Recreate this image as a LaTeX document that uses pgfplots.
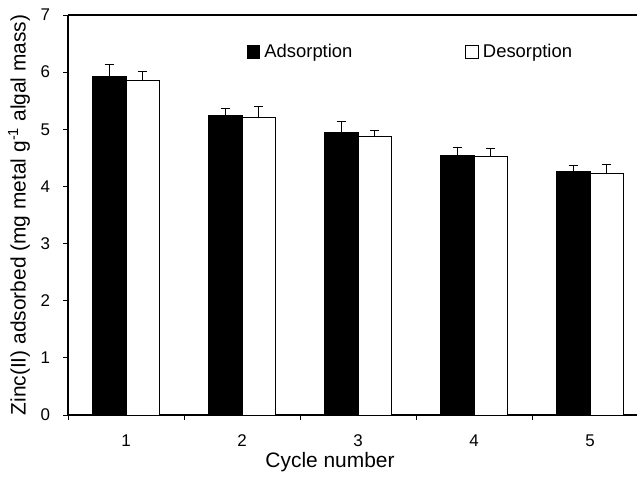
\documentclass[border=0pt]{standalone}
\usepackage{pgfplots}
\pgfplotsset{compat=1.18}
\usepackage{fontspec}
\setmainfont{Liberation Sans}
\begin{document}
\begin{tikzpicture}
\path[use as bounding box] (0,0) rectangle (637bp,477bp);
\begin{axis}[
  at={(68bp,62bp)}, anchor=south west,
  scale only axis, width=569bp, height=400bp,
  xmin=0.5, xmax=5.405, ymin=0, ymax=7,
  clip=false,
  axis lines*=left,
  axis line style={-, line width=1.1bp, black},
  tick align=outside,
  major tick length=4.5bp,
  tick style={line width=1bp, black},
  xtick={0.5,1.5,2.5,3.5,4.5},
  xticklabel={\fontsize{17}{20}\selectfont\pgfmathparse{int(\tick+0.5)}\pgfmathresult},
  ytick={0,1,2,3,4,5,6,7},
  yticklabel={\fontsize{17}{20}\selectfont\pgfmathparse{int(\tick)}\pgfmathresult},
  xticklabel style={xshift=58bp, yshift=-11.5bp},
  yticklabel style={anchor=east, xshift=-10bp},
  xlabel={Cycle number},
  ylabel={Zinc(II) adsorbed (mg metal g\textsuperscript{-1} algal mass)},
  label style={font=\fontsize{21}{24}\selectfont},
  xlabel style={at={(axis description cs:0.4605,-0.13)}, anchor=base},
  ylabel style={at={(axis description cs:-0.0861,0.5)}, anchor=center},
  legend columns=2,
  legend style={at={(axis description cs:0.314,0.9075)}, anchor=west,
    draw=none, fill=none, inner sep=0pt,
    font=\fontsize{18.5}{22}\selectfont,
    /tikz/every even column/.append style={column sep=111bp}},
  legend image code/.code={\draw[#1] (0bp,-6.3bp) rectangle (12.5bp,6.3bp);
    \path (14.5bp,0bp);},
]
\addplot[ybar, bar width=33.5bp, bar shift=0bp, fill=black, draw=black, line width=1bp,
  error bars/.cd, y dir=plus, y explicit,
  error bar style={line width=1.2bp, black},
  error mark options={line width=1.2bp, black, mark size=4.7bp, rotate=90}]
  coordinates {(0.8556,5.93) +- (0,0.21) (1.8556,5.245) +- (0,0.12) (2.8556,4.94) +- (0,0.19) (3.8556,4.55) +- (0,0.13) (4.8556,4.27) +- (0,0.09)};
\addlegendentry{Adsorption}
\addplot[ybar, bar width=33.5bp, bar shift=0bp, fill=white, draw=black, line width=1bp,
  error bars/.cd, y dir=plus, y explicit,
  error bar style={line width=1.2bp, black},
  error mark options={line width=1.2bp, black, mark size=4.7bp, rotate=90}]
  coordinates {(1.1444,5.86) +- (0,0.155) (2.1444,5.2) +- (0,0.2) (3.1444,4.88) +- (0,0.095) (4.1444,4.53) +- (0,0.13) (5.1444,4.235) +- (0,0.155)};
\addlegendentry{Desorption}
\draw[line width=1.1bp, black] (rel axis cs:0,1) -- (rel axis cs:1,1);
\end{axis}
\end{tikzpicture}
\end{document}
